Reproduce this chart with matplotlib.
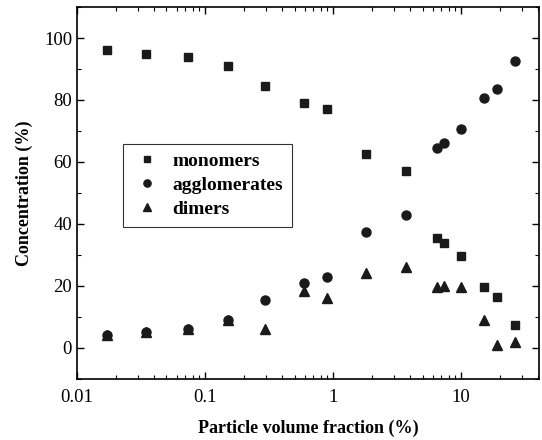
import numpy as np
import matplotlib.pyplot as plt
from matplotlib.ticker import LogLocator, MultipleLocator, FixedLocator

plt.rcParams["font.family"] = ["Liberation Serif", "DejaVu Serif"]

# particle volume fraction (%)
x = [0.0171, 0.0344, 0.0736, 0.152, 0.292, 0.597, 0.893, 1.81, 3.72,
     6.46, 7.33, 10.0, 15.1, 19.1, 26.3]
monomers = [96, 95, 94, 91, 84.5, 79, 77, 62.5, 57, 35.5, 34, 29.5, 19.5, 16.5, 7.5]
agglomerates = [4, 5, 6, 9, 15.5, 21, 23, 37.5, 43, 64.5, 66, 70.5, 80.5, 83.5, 92.5]
dimers = [4, 5, 6, 9, 6, 18.5, 16, 24, 26, 19.5, 20, 19.5, 9, 1, 2]

fig = plt.figure(figsize=(5.42, 4.4), dpi=100)
ax = fig.add_axes([0.142, 0.139, 0.853, 0.845])

ax.plot(x, monomers, "s", color="#1a1a1a", ms=5.8, label="monomers")
ax.plot(x, agglomerates, "o", color="#1a1a1a", ms=6.5, label="agglomerates")
ax.plot(x, dimers, "^", color="#1a1a1a", ms=7, label="dimers")

ax.set_xscale("log")
ax.set_xlim(0.01, 40.7)
ax.set_ylim(-10, 110)
ax.xaxis.set_major_locator(FixedLocator([0.01, 0.1, 1, 10]))
ax.set_xticklabels(["0.01", "0.1", "1", "10"])
ax.xaxis.set_minor_locator(LogLocator(base=10, subs=np.arange(2, 10), numticks=20))
ax.yaxis.set_major_locator(FixedLocator([0, 20, 40, 60, 80, 100]))
ax.yaxis.set_minor_locator(MultipleLocator(10))

ax.tick_params(which="both", direction="in", top=True, right=True, labelsize=13.5)
ax.tick_params(which="major", length=5, width=1)
ax.tick_params(which="minor", length=3, width=0.8)
ax.tick_params(axis="x", which="major", pad=7)
for s in ax.spines.values():
    s.set_linewidth(1.2)

ax.set_xlabel("Particle volume fraction (%)", fontsize=13, fontweight="bold", labelpad=10)
ax.set_ylabel("Concentration (%)", fontsize=13, fontweight="bold", labelpad=8)

leg = ax.legend(loc="upper left", bbox_to_anchor=(0.0996, 0.632), frameon=True,
                fancybox=False, edgecolor="black", prop={"weight": "bold", "size": 14},
                handlelength=1.6, handletextpad=0.5, borderpad=0.45,
                labelspacing=0.33, borderaxespad=0, markerscale=0.8)
leg.get_frame().set_linewidth(0.8)

fig.savefig("out.png", dpi=100)
